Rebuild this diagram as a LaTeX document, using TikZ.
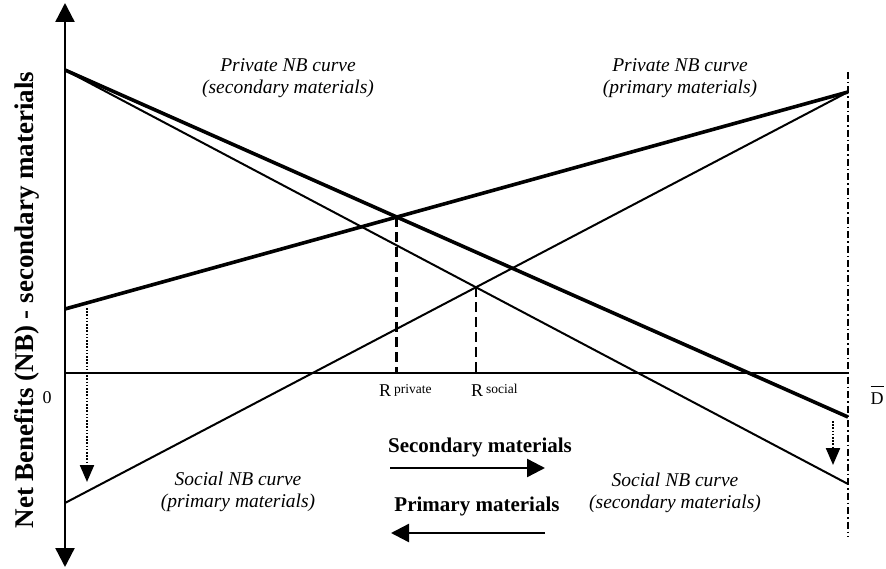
\documentclass[tikz,border=0pt]{standalone}
\usepackage{fontspec}
\setmainfont{Liberation Serif}
\usetikzlibrary{arrows.meta}
\begin{document}
\begin{tikzpicture}[x=1pt,y=-1pt,
  axisline/.style={line width=2.4pt},
  bigtips/.style={{Triangle[width=19pt,length=19pt]}-{Triangle[width=19pt,length=19pt]}},
  thickcurve/.style={line width=3.6pt},
  thincurve/.style={line width=2pt},
  dropline/.style={line width=2.8pt,dash pattern=on 10pt off 5pt},
  shiftarrow/.style={line width=2.2pt,dash pattern=on 1.6pt off 1.6pt,-{Triangle[width=14pt,length=17pt]}},
  dirarrow/.style={line width=2.4pt,-{Triangle[width=18pt,length=18pt]}},
  curvelabel/.style={font=\fontsize{19.5}{22}\selectfont\itshape,align=center},
  dirlabel/.style={font=\fontsize{21}{25}\selectfont\bfseries},
  ticklabel/.style={font=\fontsize{18}{22}\selectfont,inner sep=0pt}
]
\useasboundingbox (0,0) rectangle (886,569);

% axes
\coordinate (ytop) at (65,3);
\coordinate (ybot) at (65,567);
\coordinate (O) at (65,373);
\coordinate (xend) at (848,373);
\coordinate (dtop) at (848,72);
\coordinate (dbot) at (848,537);

\draw[axisline,bigtips] (ybot) -- (ytop);
\draw[line width=1.5pt] (O) -- (xend);
\draw[line width=1.4pt,dash pattern=on 7pt off 3pt on 1.5pt off 3pt] (dtop) -- (dbot);

% curve end points
\coordinate (A) at (65,70);
\coordinate (B) at (848,417);
\coordinate (C) at (848,484);
\coordinate (P1) at (65,309);
\coordinate (P2) at (848,92);
\coordinate (S1) at (65,503);

\draw[thickcurve] (A) -- (B);
\draw[thincurve] (A) -- (C);
\draw[thickcurve] (P1) -- (P2);
\draw[thincurve] (S1) -- (P2);

% equilibria
\coordinate (Rp) at (intersection of A--B and P1--P2);
\coordinate (Rs) at (intersection of A--C and S1--P2);
\coordinate (Rpb) at (Rp |- O);
\coordinate (Rsb) at (Rs |- O);
\draw[dropline] (Rp) -- (Rpb);
\draw[dropline] (Rs) -- (Rsb);

\node[ticklabel,anchor=north west] (rplab) at ([xshift=-18pt,yshift=-11pt]Rpb) {R\,\raisebox{3pt}{\fontsize{13.5}{16}\selectfont private}};
\node[ticklabel,anchor=north west] (rslab) at ([xshift=-5pt,yshift=-11pt]Rsb) {R\,\raisebox{3pt}{\fontsize{13.5}{16}\selectfont social}};

\node[ticklabel] (zero) at (47,398) {0};
\node[ticklabel,anchor=south] (dlab) at (877,405) {$\overline{\mbox{D\rule{0pt}{17pt}}}$};

% shift arrows
\coordinate (l1) at (87,308);
\coordinate (l2) at (87,482);
\coordinate (r1) at (833,421);
\coordinate (r2) at (833,465);
\draw[shiftarrow] (l1) -- (l2);
\draw[shiftarrow] (r1) -- (r2);

% direction arrows
\node[dirlabel] (sec) at (480,447) {Secondary materials};
\node[dirlabel] (pri) at (477,506) {Primary materials};
\coordinate (s1) at (390,468);
\coordinate (s2) at (545,468);
\coordinate (p1) at (545,533);
\coordinate (p2) at (391,533);
\draw[dirarrow] (s1) -- (s2);
\draw[dirarrow] (p1) -- (p2);

% curve labels
\node[curvelabel] (pnbs) at (288,78) {Private NB curve\\(secondary materials)};
\node[curvelabel] (pnbp) at (680,78) {Private NB curve\\(primary materials)};
\node[curvelabel] (snbp) at (238,492) {Social NB curve\\(primary materials)};
\node[curvelabel] (snbs) at (675,493) {Social NB curve\\(secondary materials)};

% y label
\node[rotate=90,font=\fontsize{27}{32}\selectfont\bfseries] (ylab) at (27,300) {Net Benefits (NB) - secondary materials};
\end{tikzpicture}
\end{document}
